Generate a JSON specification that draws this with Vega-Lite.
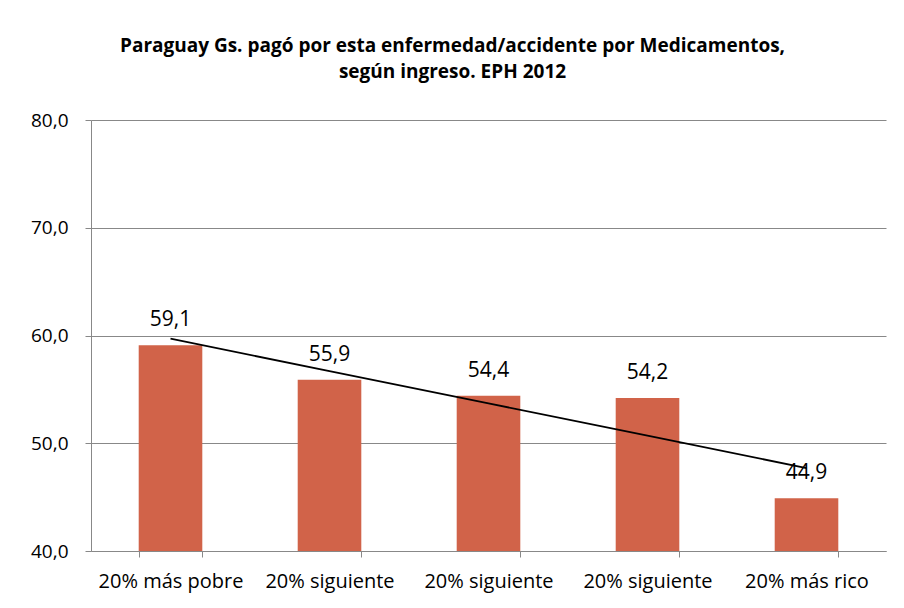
{
  "$schema": "https://vega.github.io/schema/vega-lite/v6.json",
  "autosize": "none",
  "width": 795,
  "height": 431,
  "padding": {"left": 91, "top": 120, "right": 18, "bottom": 57},
  "background": "white",
  "title": {
    "text": ["Paraguay Gs. pagó por esta enfermedad/accidente por Medicamentos,", "según ingreso. EPH 2012"],
    "anchor": "middle",
    "frame": "group",
    "dx": -36,
    "offset": 29,
    "font": "Open Sans",
    "fontSize": 19,
    "fontWeight": "bold",
    "lineHeight": 26,
    "color": "black"
  },
  "data": {
    "values": [
      {"orden": 1, "grupo": "20% más pobre", "valor": 59.1, "tendencia": 59.7},
      {"orden": 2, "grupo": "20% siguiente", "valor": 55.9, "tendencia": 56.7},
      {"orden": 3, "grupo": "20% siguiente", "valor": 54.4, "tendencia": 53.7},
      {"orden": 4, "grupo": "20% siguiente", "valor": 54.2, "tendencia": 50.7},
      {"orden": 5, "grupo": "20% más rico", "valor": 44.9, "tendencia": 47.7}
    ]
  },
  "encoding": {
    "x": {
      "field": "orden",
      "type": "ordinal",
      "scale": {"paddingInner": 0.6, "paddingOuter": 0.3},
      "axis": {
        "title": null,
        "labelAngle": 0,
        "labelExpr": "datum.value == 1 ? '20% más pobre' : datum.value == 5 ? '20% más rico' : (datum.value == 2 || datum.value == 3 || datum.value == 4) ? '20% siguiente' : ''",
        "labelFont": "Open Sans",
        "labelFontSize": 20,
        "labelColor": "black",
        "labelPadding": 14,
        "domainColor": "#888888",
        "tickColor": "#888888",
        "tickSize": 6,
        "tickBand": "extent",
        "grid": false
      }
    }
  },
  "layer": [
    {
      "mark": {"type": "bar", "color": "#D16349"},
      "encoding": {
        "y": {
          "field": "valor",
          "type": "quantitative",
          "scale": {"domain": [40, 80], "zero": false, "nice": false},
          "axis": {
            "title": null,
            "values": [40, 50, 60, 70, 80],
            "format": ".1f",
            "labelFont": "Open Sans",
            "labelFontSize": 19,
            "labelColor": "black",
            "labelPadding": 17,
            "domainColor": "#888888",
            "tickColor": "#888888",
            "tickSize": 6,
            "gridColor": "#888888",
            "gridWidth": 1
          }
        },
        "y2": {"datum": 40}
      }
    },
    {
      "mark": {"type": "line", "color": "black", "strokeWidth": 1.8},
      "encoding": {
        "y": {"field": "tendencia", "type": "quantitative"}
      }
    },
    {
      "mark": {"type": "text", "dy": -25, "baseline": "middle", "font": "Open Sans", "fontSize": 21, "color": "black"},
      "encoding": {
        "y": {"field": "valor", "type": "quantitative"},
        "text": {"field": "valor", "type": "quantitative", "format": ".1f"}
      }
    }
  ],
  "config": {
    "locale": {"number": {"decimal": ",", "thousands": ".", "grouping": [3], "currency": ["", ""]}},
    "view": {"stroke": null}
  }
}
